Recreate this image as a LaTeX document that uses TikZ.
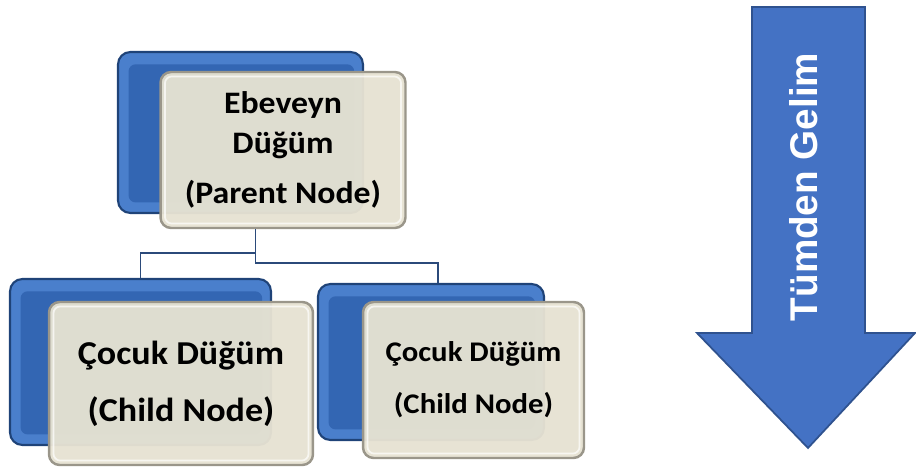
\documentclass[tikz,border=0pt]{standalone}
\usepackage{fontspec}
\setmainfont{Carlito}[FakeStretch=1.08]
\newfontfamily\arrowfont{Liberation Sans}
\definecolor{boxblue}{HTML}{4A7FCC}
\definecolor{boxinner}{HTML}{3366B3}
\definecolor{boxedge}{HTML}{1F4378}
\definecolor{boxbeige}{HTML}{E6E2D2}
\definecolor{beigeedge}{HTML}{9A968A}
\definecolor{arrowblue}{HTML}{4472C4}
\definecolor{arrowedge}{HTML}{2F528F}
\definecolor{linkblue}{HTML}{2B4A7A}
\tikzset{
  backbox/.style={draw=boxedge,fill=boxblue,line width=1.2pt,rounded corners=7pt,
    path picture={\fill[boxinner,rounded corners=4pt]
      ([shift={(6pt,6pt)}]path picture bounding box.south west) rectangle
      ([shift={(-5pt,-7pt)}]path picture bounding box.north east);}},
  frontbox/.style={draw=beigeedge,fill=boxbeige,fill opacity=.96,text opacity=1,
    line width=1.4pt,rounded corners=6pt,align=center,
    path picture={\draw[white,line width=1pt,opacity=.7,rounded corners=4pt]
      ([shift={(2.5pt,2.5pt)}]path picture bounding box.south west) rectangle
      ([shift={(-2.5pt,-2.5pt)}]path picture bounding box.north east);}},
  link/.style={draw=linkblue,line width=.9pt}
}
\begin{document}
\begin{tikzpicture}[x=0.02cm,y=-0.02cm]
  \useasboundingbox (0,0) rectangle (916,473);
  % tree of boxes
  \node[backbox,minimum width=4.9cm,minimum height=3.22cm] (Pback) at (240.5,132.5) {};
  \node[frontbox,minimum width=4.9cm,minimum height=3.12cm,
    font=\bfseries\fontsize{17.8}{22.8}\selectfont] (P) at (283,150)
    {Ebeveyn\\Düğüm\\[5.7pt](Parent Node)};
  \node[backbox,minimum width=5.22cm,minimum height=3.32cm] (C1back) at (140.5,362) {};
  \node[frontbox,minimum width=5.28cm,minimum height=3.26cm,
    font=\bfseries\fontsize{19}{32.4}\selectfont] (C1) at (181,383.5)
    {Çocuk Düğüm\\(Child Node)};
  \node[backbox,minimum width=4.52cm,minimum height=3.12cm] (C2back) at (431,362) {};
  \node[frontbox,minimum width=4.42cm,minimum height=3.12cm,
    font=\bfseries\fontsize{16.2}{29.6}\selectfont] (C2) at (473.5,380)
    {Çocuk Düğüm\\(Child Node)};
  \draw[link] ([xshift=-0.55cm]P.south) -- ++(0,24) -| (C1back.north);
  \draw[link] ([xshift=-0.55cm]P.south) -- ++(0,34) -| ([xshift=0.14cm]C2back.north);
  % arrow
  \draw[fill=arrowblue,draw=arrowedge,line width=1pt,line join=miter]
    (752,7) -- (865,7) -- (865,333) -- (915,333) -- (808,448) -- (697,333)
    -- (752,333) -- cycle;
  \node[rotate=90,text=white,font=\arrowfont\bfseries\fontsize{22}{26}\selectfont]
    (down) at (804,187) {Tümden Gelim};
\end{tikzpicture}
\end{document}
